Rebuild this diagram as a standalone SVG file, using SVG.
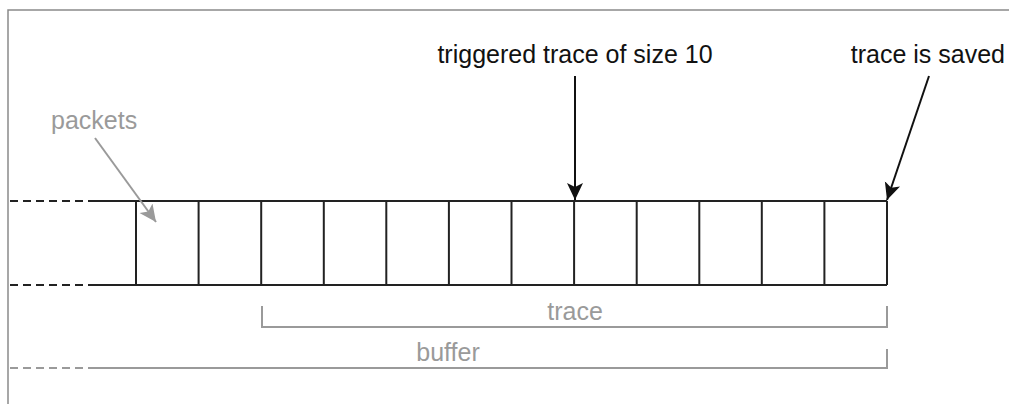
<svg xmlns="http://www.w3.org/2000/svg" width="1009" height="404" viewBox="0 0 1009 404">
  <style>
    .frame { stroke: #8a8a8a; stroke-width: 1.5; fill: none; }
    .cell { stroke: #222; stroke-width: 2; fill: none; }
    .dash { stroke: #222; stroke-width: 2; stroke-dasharray: 8 5; fill: none; }
    .gline { stroke: #9a9a9a; stroke-width: 2; fill: none; }
    .gdash { stroke: #9a9a9a; stroke-width: 2; stroke-dasharray: 8 5; fill: none; }
    .arrow { stroke: #111; stroke-width: 2; fill: none; }
    .garrow { stroke: #9a9a9a; stroke-width: 2; fill: none; }
    .lbl { font-family: "Liberation Sans", Arial, sans-serif; font-size: 25px; fill: #111; }
    .glbl { font-family: "Liberation Sans", Arial, sans-serif; font-size: 25px; fill: #9a9a9a; }
  </style>
  <defs>
    <marker id="head" viewBox="0 -9 18 18" refX="17" refY="0" markerWidth="18" markerHeight="18" markerUnits="userSpaceOnUse" orient="auto">
      <path d="M0,-8 L17,0 L0,8 L4,0 Z" fill="#111"/>
    </marker>
    <marker id="headGray" viewBox="0 -9 18 18" refX="17" refY="0" markerWidth="18" markerHeight="18" markerUnits="userSpaceOnUse" orient="auto">
      <path d="M0,-8 L17,0 L0,8 L4,0 Z" fill="#9a9a9a"/>
    </marker>
  </defs>
  <rect width="1009" height="404" fill="#fff"/>

  <!-- outer frame -->
  <path class="frame" d="M8,404 V10 H1009"/>

  <!-- packet buffer strip -->
  <g id="buffer-strip">
    <path class="dash" d="M10,201 H95 M10,285 H95"/>
    <path class="cell" d="M95,201 H887 M95,285 H887"/>
    <path class="cell" d="M136,201 V285 M198.6,201 V285 M261.2,201 V285 M323.8,201 V285 M386.3,201 V285 M448.9,201 V285 M511.5,201 V285 M574.1,201 V285 M636.7,201 V285 M699.3,201 V285 M761.8,201 V285 M824.4,201 V285 M887,201 V285"/>
  </g>

  <!-- labels -->
  <g id="label-packets">
    <text class="glbl" x="51" y="129">packets</text>
  </g>
  <g id="label-triggered">
    <text class="lbl" x="575" y="63" text-anchor="middle">triggered trace of size 10</text>
  </g>
  <g id="label-saved">
    <text class="lbl" x="1005" y="63" text-anchor="end">trace is saved</text>
  </g>

  <!-- trace bracket -->
  <g id="trace-range">
    <path class="gline" d="M262,306 V327 H887 V306"/>
    <text class="glbl" x="575" y="320" text-anchor="middle">trace</text>
  </g>

  <!-- buffer bracket -->
  <g id="buffer-range">
    <path class="gdash" d="M10,368 H95"/>
    <path class="gline" d="M95,368 H887 V349"/>
    <text class="glbl" x="448" y="361" text-anchor="middle">buffer</text>
  </g>

  <!-- connectors -->
  <g id="connectors">
    <line class="garrow" x1="95" y1="138" x2="156" y2="222" marker-end="url(#headGray)"/>
    <line class="arrow" x1="575" y1="76" x2="575" y2="200" marker-end="url(#head)"/>
    <line class="arrow" x1="929" y1="76" x2="887" y2="200" marker-end="url(#head)"/>
  </g>
</svg>
